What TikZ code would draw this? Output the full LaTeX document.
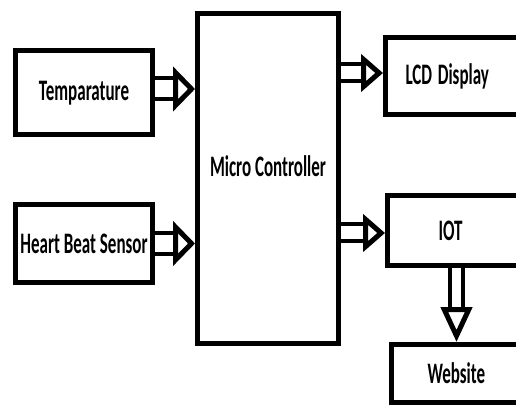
\documentclass[tikz,border=0pt]{standalone}
\usepackage{fontspec}
\setmainfont{Carlito}
\usepackage{graphicx}
\usetikzlibrary{arrows.meta,calc}
\tikzstyle{block} = [rectangle, draw=black, line width=5pt, inner sep=0pt]
\tikzstyle{connect} = [line width=4pt, double, double distance=13pt, -{Triangle[open, fill=white, line width=5pt, length=22pt, width=37pt]}]
\tikzstyle{bigconnect} = [connect, double distance=17pt, -{Triangle[open, fill=white, line width=5pt, length=22pt, width=44pt]}]
\tikzstyle{downconnect} = [connect, double distance=9pt, -{Triangle[open, fill=white, line width=5pt, length=35pt, width=31pt]}]
\newcommand{\tall}[1]{\scalebox{1}[1.75]{#1}}

\begin{document}
\begin{tikzpicture}[x=1pt, y=-1pt, font=\fontsize{17}{20}\selectfont\bfseries]
			\useasboundingbox (0,0) rectangle (516,411);
			\node (temp) [block, minimum width=137pt, minimum height=84pt, text depth=4pt] at (84,92.5) {\tall{Temparature}};
			\node (heart) [block, minimum width=137pt, minimum height=78pt] at (84,243.5) {\tall{Heart Beat Sensor}};
			%-----------------------------------------------
			\node (mc) [block, minimum width=141pt, minimum height=330pt,
				label={[yshift=12pt]center:\tall{Micro Controller}}] at (268,178.5) {};
			%-----------------------------------------------
			\node (lcd) [block, anchor=west, minimum height=77pt, text width=110pt, align=left, inner xsep=20pt] at (383,76) {\tall{LCD Display}};
			\node (iot) [block, anchor=west, minimum height=70pt, text width=60pt, align=left, inner xsep=51pt] at (385,230.5) {\tall{IOT}};
			\node (web) [block, anchor=west, minimum height=58pt, text width=80pt, align=left, inner xsep=36pt] at (389,373.5) {\tall{Website}};
			
			%-----------------------------------------------
			%-----------------------------------------------
			
			\draw [bigconnect] ([yshift=3.5pt]temp.east) -- ([yshift=3.5pt]temp.east -| mc.west);
			\draw [bigconnect] (heart.east) -- (heart.east -| mc.west);
			\draw [connect] ([yshift=3pt]lcd.west -| mc.east) -- ([yshift=3pt]lcd.west);
			\draw [connect] ([yshift=-2.5pt]iot.west -| mc.east) -- ([yshift=-2.5pt]iot.west);
			\draw [downconnect] ([xshift=-12pt]iot.south) -- ([xshift=-12pt]iot.south |- web.north);
\end{tikzpicture}
\end{document}
